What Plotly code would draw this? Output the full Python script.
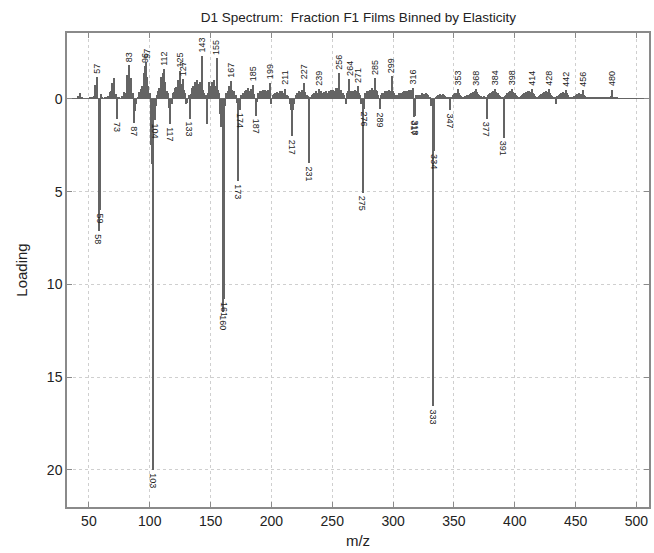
import plotly.graph_objects as go

# m/z axis categories (unit mass bins 40..500)
mz_start = 40
loading_rows = [
    # 40-49
    [0, -0.15, -0.05, -0.33, -0.1, 0, 0, 0, 0, 0],
    # 50-59
    [0, -0.05, 0, -0.1, -0.15, -0.75, -0.2, -1.2, 7.1, 6.0],
    # 60-69
    [-0.25, -0.1, 0, -0.05, 0, -0.1, -0.15, -0.35, -0.4, -0.85],
    # 70-79
    [-0.6, -1.1, -0.25, 1.07, -0.1, -0.05, 0, -0.15, -0.1, -0.35],
    # 80-89
    [-0.3, -1.3, -1.0, -1.8, -0.7, -1.1, -0.3, 1.3, 0.65, 0.3],
    # 90-99
    [-0.1, -0.35, -0.2, -0.55, -0.7, -1.4, -1.75, -2.0, -1.2, -0.7],
    # 100-109
    [-0.3, 2.5, 3.5, 20.0, 1.15, 0.4, -0.2, -0.45, -0.6, -1.2],
    # 110-119
    [-1.0, -1.4, -1.6, -0.9, -0.45, -0.3, 0.5, 1.35, 0.3, -0.3],
    # 120-129
    [-0.35, -0.6, -0.65, -1.0, -0.85, -1.5, -0.8, -1.05, -0.5, -0.3],
    # 130-139
    [0.3, 0.2, -0.2, 1.07, -0.25, -0.6, -0.7, -0.9, -0.8, -1.0],
    # 140-149
    [-0.8, -0.9, -0.7, -2.3, -0.5, -0.3, -0.2, 1.37, -0.3, -0.9],
    # 150-159
    [-0.7, -0.9, -0.75, -1.0, -0.7, -2.2, -0.5, -0.3, 0.8, 1.5],
    # 160-169
    [11.5, 10.8, 0.4, -0.3, -0.4, -0.7, -0.6, -0.95, -0.5, -0.4],
    # 170-179
    [-0.2, -0.2, 0.2, 4.43, 0.6, -0.2, -0.15, -0.3, -0.4, -0.5],
    # 180-189
    [-0.4, -0.6, -0.4, -0.55, -0.4, -0.75, -0.25, 0.9, 0.15, -0.3],
    # 190-199
    [-0.3, -0.4, -0.4, -0.5, -0.35, -0.5, -0.4, -0.5, -0.35, -0.87],
    # 200-209
    [0.3, -0.2, -0.25, -0.3, -0.3, -0.35, -0.3, -0.4, -0.3, -0.4],
    # 210-219
    [-0.3, -0.55, -0.2, -0.2, -0.15, 0.3, 0.6, 2.0, 0.6, 0.3],
    # 220-229
    [-0.2, -0.3, -0.3, -0.4, -0.35, -0.5, -0.45, -0.87, -0.35, -0.2],
    # 230-239
    [-0.15, 3.45, -0.1, -0.2, -0.25, -0.3, -0.3, -0.4, -0.3, -0.55],
    # 240-249
    [-0.3, -0.4, -0.3, -0.35, -0.3, -0.4, -0.3, -0.45, -0.35, -0.5],
    # 250-259
    [-0.4, -0.5, -0.4, -0.6, -0.5, -0.6, -1.4, -0.5, -0.3, -0.3],
    # 260-269
    [-0.2, 0.25, -0.3, -0.4, -1.05, -0.4, -0.4, -0.45, -0.3, -0.5],
    # 270-279
    [-0.4, -0.7, -0.3, -0.2, 0.3, 5.06, 0.53, -0.3, -0.3, -0.4],
    # 280-289
    [-0.4, -0.5, -0.5, -0.6, -0.5, -1.13, -0.5, -0.4, -0.2, 0.57],
    # 290-299
    [-0.2, -0.3, -0.3, -0.4, -0.3, -0.45, -0.4, -0.5, -0.4, -1.22],
    # 300-309
    [-0.4, -0.3, -0.2, -0.2, -0.2, -0.3, -0.3, -0.3, -0.35, -0.4],
    # 310-319
    [-0.4, -0.4, -0.45, -0.5, -0.4, -0.5, -0.6, 1.0, 0.95, -0.2],
    # 320-329
    [-0.2, -0.2, -0.2, -0.2, -0.3, -0.25, -0.25, -0.3, -0.25, -0.2],
    # 330-339
    [-0.1, 0.4, 0.4, 16.55, 2.8, -0.1, -0.15, -0.2, -0.2, -0.25],
    # 340-349
    [-0.2, -0.25, -0.2, -0.15, -0.1, -0.1, -0.1, 0.6, -0.1, -0.2],
    # 350-359
    [-0.25, -0.3, -0.3, -0.55, -0.3, -0.2, -0.15, -0.1, -0.1, -0.15],
    # 360-369
    [-0.15, -0.2, -0.2, -0.25, -0.3, -0.3, -0.35, -0.4, -0.55, -0.35],
    # 370-379
    [-0.25, -0.2, -0.15, -0.1, -0.1, -0.15, -0.1, 1.07, -0.2, -0.25],
    # 380-389
    [-0.3, -0.35, -0.4, -0.4, -0.55, -0.35, -0.3, -0.2, -0.15, -0.1],
    # 390-399
    [-0.1, 2.1, -0.15, -0.2, -0.3, -0.35, -0.4, -0.4, -0.55, -0.35],
    # 400-409
    [-0.3, -0.2, -0.15, -0.1, -0.1, -0.15, -0.2, -0.25, -0.3, -0.35],
    # 410-419
    [-0.35, -0.4, -0.4, -0.35, -0.55, -0.3, -0.25, -0.15, -0.1, -0.1],
    # 420-429
    [-0.15, -0.2, -0.25, -0.3, -0.35, -0.35, -0.4, -0.35, -0.55, -0.3],
    # 430-439
    [-0.2, -0.15, -0.1, -0.05, 0.3, -0.15, -0.2, -0.25, -0.3, -0.3],
    # 440-449
    [-0.35, -0.3, -0.5, -0.3, -0.2, -0.1, -0.1, -0.05, -0.1, -0.15],
    # 450-459
    [-0.2, -0.25, -0.25, -0.3, -0.25, -0.25, -0.5, -0.2, -0.15, -0.1],
    # 460-469
    [-0.05, -0.05, -0.05, -0.05, -0.1, -0.1, -0.1, -0.1, -0.1, -0.1],
    # 470-479
    [-0.1, -0.05, -0.05, -0.05, -0.05, -0.05, -0.05, -0.1, -0.1, -0.15],
    # 480-489
    [-0.5, -0.1, -0.05, -0.05, -0.05, -0.03, -0.03, -0.03, -0.03, -0.03],
    # 490-500
    [-0.03, -0.03, -0.03, -0.03, -0.03, -0.03, -0.03, -0.03, -0.03, -0.03, -0.02],
]
loading = [v for row in loading_rows for v in row]
mz = list(range(mz_start, mz_start + len(loading)))

up_labels = [57, 83, 96, 97, 112, 125, 127, 143, 155, 167, 185, 199, 211, 227,
             239, 256, 264, 271, 285, 299, 316, 353, 368, 384, 398, 414, 428,
             442, 456, 480]
down_labels = [58, 59, 73, 87, 103, 104, 117, 133, 160, 161, 173, 174, 187,
               217, 231, 275, 276, 289, 317, 318, 333, 334, 347, 377, 391]

title_text = "D1 Spectrum:  Fraction F1 Films Binned by Elasticity"
x_title = "m/z"
y_title = "Loading"
x_ticks = [50, 100, 150, 200, 250, 300, 350, 400, 450, 500]
y_ticks = [0, 5, 10, 15, 20]

val = dict(zip(mz, loading))
FONT = "Liberation Sans, Arial, sans-serif"

fig = go.Figure()
fig.add_trace(go.Bar(
    x=mz, y=loading, width=0.95,
    marker=dict(color="#646464", line=dict(width=0)),
    showlegend=False,
))

annotations = []
for m in up_labels:
    t = str(m)
    off = len(t) * 2.6 + 3
    annotations.append(dict(
        x=m, y=val[m], xref="x", yref="y", text=t, textangle=-90,
        showarrow=True, arrowcolor="rgba(0,0,0,0)", ax=0, ay=-off,
        font=dict(family=FONT, size=9, color="#222"),
    ))
for m in down_labels:
    t = str(m)
    off = len(t) * 2.6 + 3
    annotations.append(dict(
        x=m, y=val[m], xref="x", yref="y", text=t, textangle=90,
        showarrow=True, arrowcolor="rgba(0,0,0,0)", ax=0, ay=off,
        font=dict(family=FONT, size=9, color="#222"),
    ))

axis_common = dict(
    showline=True, linecolor="#8a8a8a", linewidth=1.5, mirror="ticks",
    ticks="inside", ticklen=5, tickcolor="#8a8a8a", tickwidth=1,
    showgrid=True, gridcolor="#cfcfcf", griddash="dot", gridwidth=1,
    tickfont=dict(family=FONT, size=14, color="#222"),
)

fig.update_layout(
    width=654, height=553,
    margin=dict(l=67, r=3, t=33, b=46),
    paper_bgcolor="white", plot_bgcolor="white",
    bargap=0,
    title=dict(text=title_text, x=0.548, xanchor="center", y=0.968, yanchor="middle",
               font=dict(family=FONT, size=13.5, color="#222")),
    xaxis=dict(range=[32, 510.3], tickvals=x_ticks, zeroline=False,
               title=dict(text=x_title, standoff=8,
                          font=dict(family=FONT, size=15, color="#222")),
               **axis_common),
    yaxis=dict(range=[22.0, -3.55], tickvals=y_ticks,
               zeroline=True, zerolinecolor="#6a6a6a", zerolinewidth=1,
               title=dict(text=y_title, standoff=16,
                          font=dict(family=FONT, size=15, color="#222")),
               **axis_common),
    annotations=annotations,
)

fig.write_html("out.html")
